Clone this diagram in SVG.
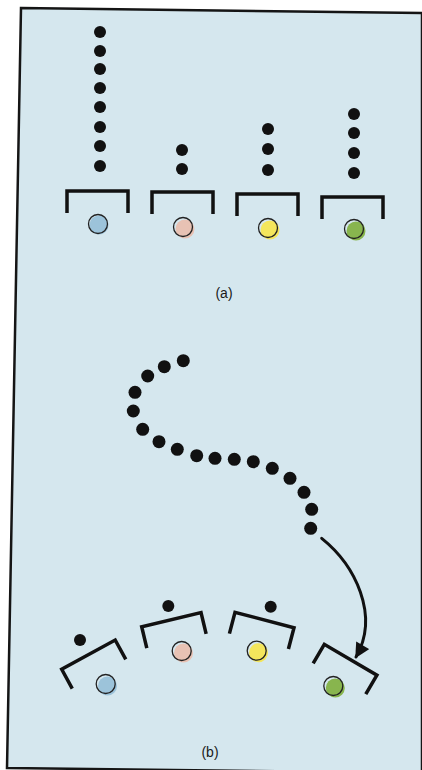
<svg xmlns="http://www.w3.org/2000/svg" width="422" height="770" viewBox="0 0 422 770">
<defs>
<style>
.dot{fill:#111;}
.br{fill:none;stroke:#111;stroke-width:3.5;stroke-linejoin:miter;stroke-linecap:butt;}
.ring{fill:none;stroke:#222;stroke-width:1.3;}
.lbl{font-family:"Liberation Sans",Arial,sans-serif;font-size:14px;fill:#1a1a1a;text-anchor:middle;}
.con{fill:none;stroke:#111;stroke-width:3;stroke-linecap:round;}
</style>
<path id="brk" d="M0,22 V0 H61 V22"/>
<marker id="ah" viewBox="0 0 10 10" refX="9" refY="5" markerWidth="5.5" markerHeight="5" markerUnits="strokeWidth" orient="auto">
<path d="M0,0 L10,5 L0,10 Z" fill="#111"/>
</marker>
</defs>
<rect x="0" y="0" width="422" height="770" fill="#ffffff"/>
<polygon points="21,8 422,13 422,773 7,768" fill="#d5e7ee" stroke="#151515" stroke-width="2.5"/>

<g id="part-a">
<g id="a-col1">
<circle class="dot" cx="100" cy="32" r="6"/>
<circle class="dot" cx="100" cy="51" r="6"/>
<circle class="dot" cx="100" cy="69" r="6"/>
<circle class="dot" cx="100" cy="88" r="6"/>
<circle class="dot" cx="100" cy="107" r="6"/>
<circle class="dot" cx="100" cy="127" r="6"/>
<circle class="dot" cx="100" cy="146" r="6"/>
<circle class="dot" cx="100" cy="166" r="6"/>
<use href="#brk" class="br" transform="translate(67,191)"/>
<circle cx="99" cy="225" r="9.5" fill="#9cc3da"/>
<circle class="ring" cx="98" cy="224" r="9.5"/>
</g>
<g id="a-col2">
<circle class="dot" cx="182" cy="150" r="6"/>
<circle class="dot" cx="182" cy="169" r="6"/>
<use href="#brk" class="br" transform="translate(152,192)"/>
<circle cx="185" cy="229" r="9.5" fill="#e8c2b4"/>
<circle class="ring" cx="183" cy="227" r="9.5"/>
</g>
<g id="a-col3">
<circle class="dot" cx="268" cy="129" r="6"/>
<circle class="dot" cx="268" cy="149" r="6"/>
<circle class="dot" cx="268" cy="170" r="6"/>
<use href="#brk" class="br" transform="translate(237,194)"/>
<circle cx="270" cy="230" r="9.5" fill="#f4e65c"/>
<circle class="ring" cx="268" cy="228" r="9.5"/>
</g>
<g id="a-col4">
<circle class="dot" cx="354" cy="114" r="6"/>
<circle class="dot" cx="354" cy="133" r="6"/>
<circle class="dot" cx="354" cy="153" r="6"/>
<circle class="dot" cx="354" cy="173" r="6"/>
<use href="#brk" class="br" transform="translate(322,197)"/>
<circle cx="356" cy="231" r="9.5" fill="#88b54e"/>
<circle class="ring" cx="354" cy="229" r="9.5"/>
</g>
<text class="lbl" x="224" y="298">(a)</text>
</g>

<g id="part-b">
<g id="chain">
<circle class="dot" cx="183.3" cy="360.7" r="6.5"/>
<circle class="dot" cx="164.3" cy="366.7" r="6.5"/>
<circle class="dot" cx="147.7" cy="376" r="6.5"/>
<circle class="dot" cx="135" cy="392.3" r="6.5"/>
<circle class="dot" cx="133.3" cy="411" r="6.5"/>
<circle class="dot" cx="142.7" cy="429.3" r="6.5"/>
<circle class="dot" cx="159" cy="441.7" r="6.5"/>
<circle class="dot" cx="177.3" cy="449.3" r="6.5"/>
<circle class="dot" cx="196.7" cy="455.7" r="6.5"/>
<circle class="dot" cx="215" cy="458.3" r="6.5"/>
<circle class="dot" cx="234.3" cy="459.3" r="6.5"/>
<circle class="dot" cx="253.3" cy="461.7" r="6.5"/>
<circle class="dot" cx="272.3" cy="468.3" r="6.5"/>
<circle class="dot" cx="290" cy="478.3" r="6.5"/>
<circle class="dot" cx="304" cy="492.3" r="6.5"/>
<circle class="dot" cx="311.7" cy="509.3" r="6.5"/>
<circle class="dot" cx="310.7" cy="528.3" r="6.5"/>
</g>
<g id="b-site1">
<circle class="dot" cx="80" cy="640" r="6"/>
<use href="#brk" class="br" transform="translate(61.7,669.3) rotate(-28.7)"/>
<circle cx="107.5" cy="686" r="9.5" fill="#9cc3da"/>
<circle class="ring" cx="105.7" cy="684" r="9.5"/>
</g>
<g id="b-site2">
<circle class="dot" cx="168.3" cy="606" r="6"/>
<use href="#brk" class="br" transform="translate(141.7,626.7) rotate(-13.4)"/>
<circle cx="183.5" cy="653" r="9.5" fill="#e8c2b4"/>
<circle class="ring" cx="181.7" cy="651" r="9.5"/>
</g>
<g id="b-site3">
<circle class="dot" cx="270.7" cy="606.7" r="6"/>
<use href="#brk" class="br" transform="translate(235,612.3) rotate(14.7)"/>
<circle cx="258.5" cy="652.7" r="9.5" fill="#f4e65c"/>
<circle class="ring" cx="256.7" cy="650.7" r="9.5"/>
</g>
<g id="b-site4">
<use href="#brk" class="br" transform="translate(324.3,644.3) rotate(30.4)"/>
<circle cx="335.3" cy="688" r="9.5" fill="#88b54e"/>
<circle class="ring" cx="333.3" cy="686" r="9.5"/>
</g>
<g id="connectors">
<path class="con" d="M321.7,538.3 C355,565 380,615 356,657" marker-end="url(#ah)"/>
</g>
<text class="lbl" x="210" y="757">(b)</text>
</g>
</svg>
